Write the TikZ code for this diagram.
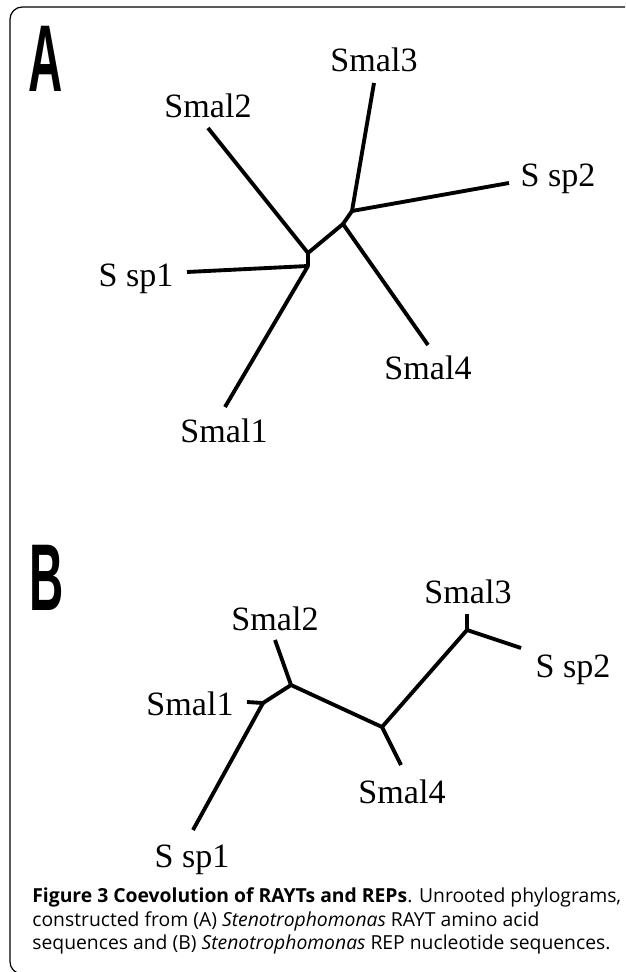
\documentclass[tikz,border=0pt]{standalone}
\usepackage{fontspec}
\setmainfont{Liberation Serif}
\newfontfamily\capfont{Open Sans}
\newfontfamily\panelfont{Liberation Sans}
\usetikzlibrary{positioning}

\begin{document}
\begin{tikzpicture}[x=0.02cm,y=-0.02cm,every node/.append style={inner sep=0pt},
  taxon/.style={font=\fontsize{19.4}{22}\selectfont,anchor=base},
  branch/.style={line width=2.2pt,line join=round},
  panel/.style={font=\panelfont\bfseries\fontsize{54}{60}\selectfont,xscale=0.5},
  capline/.style={font=\capfont\fontsize{11}{13.4}\selectfont,anchor=base west}]

\clip (0,0) rectangle (625,972);
\draw[line width=0.7pt,rounded corners=7pt] (10,7) rectangle (700,974); % frame

%
% A: RAYT tree
%
\node [panel] (labA) at (46,59) {A};

\coordinate (a1) at (308,266); % S sp1 / Smal1
\coordinate (a2) at (308,253); % Smal2
\coordinate (a3) at (343,224); % Smal4
\coordinate (a4) at (352,211); % Smal3 / S sp2

\coordinate (aSsp1) at (187,272);
\coordinate (aSmal1) at (225,407);
\coordinate (aSmal2) at (208,128);
\coordinate (aSmal4) at (428,345);
\coordinate (aSmal3) at (374,83);
\coordinate (aSsp2) at (509,183);

\draw [branch] (aSsp1) -- (a1) -- (aSmal1);
\draw [branch] (a1) -- (a2) -- (aSmal2);
\draw [branch] (a2) -- (a3) -- (aSmal4);
\draw [branch] (a3) -- (a4) -- (aSmal3);
\draw [branch] (a4) -- (aSsp2);

\node [taxon] (tASmal3) at (374,72) {Smal3};
\node [taxon] (tASmal2) at (208,118) {Smal2};
\node [taxon] (tASsp2) at (558,187) {S sp2};
\node [taxon] (tASsp1) at (136,287) {S sp1};
\node [taxon] (tASmal4) at (428,380) {Smal4};
\node [taxon] (tASmal1) at (224,442) {Smal1};

%
% B: REP tree
%
\node [panel] (labB) at (47,578) {B};

\coordinate (b1) at (263,703); % Smal1 / S sp1
\coordinate (b2) at (291,685); % Smal2
\coordinate (b3) at (382,727); % Smal4
\coordinate (b4) at (467,630); % Smal3 / S sp2

\coordinate (bSmal1) at (247,702);
\coordinate (bSsp1) at (193,830);
\coordinate (bSmal2) at (275,640);
\coordinate (bSmal4) at (401,765);
\coordinate (bSmal3) at (467,614);
\coordinate (bSsp2) at (521,648);

\draw [branch] (bSmal1) -- (b1) -- (bSsp1);
\draw [branch] (b1) -- (b2) -- (bSmal2);
\draw [branch] (b2) -- (b3) -- (bSmal4);
\draw [branch] (b3) -- (b4) -- (bSmal3);
\draw [branch] (b4) -- (bSsp2);

\node [taxon] (tBSmal3) at (468,603) {Smal3};
\node [taxon] (tBSmal2) at (275,630) {Smal2};
\node [taxon] (tBSsp2) at (573,677) {S sp2};
\node [taxon] (tBSmal1) at (190,715) {Smal1};
\node [taxon] (tBSmal4) at (402,803) {Smal4};
\node [taxon] (tBSsp1) at (192,867) {S sp1};

%
% caption
%
\node [capline] (cap1) at (32,902) {\textbf{Figure 3 Coevolution of RAYTs and REPs}. Unrooted phylograms,};
\node [capline] (cap2) at (32,926) {constructed from (A) \textit{Stenotrophomonas} RAYT amino acid};
\node [capline] (cap3) at (32,949) {sequences and (B) \textit{Stenotrophomonas} REP nucleotide sequences.};

\end{tikzpicture}
\end{document}
